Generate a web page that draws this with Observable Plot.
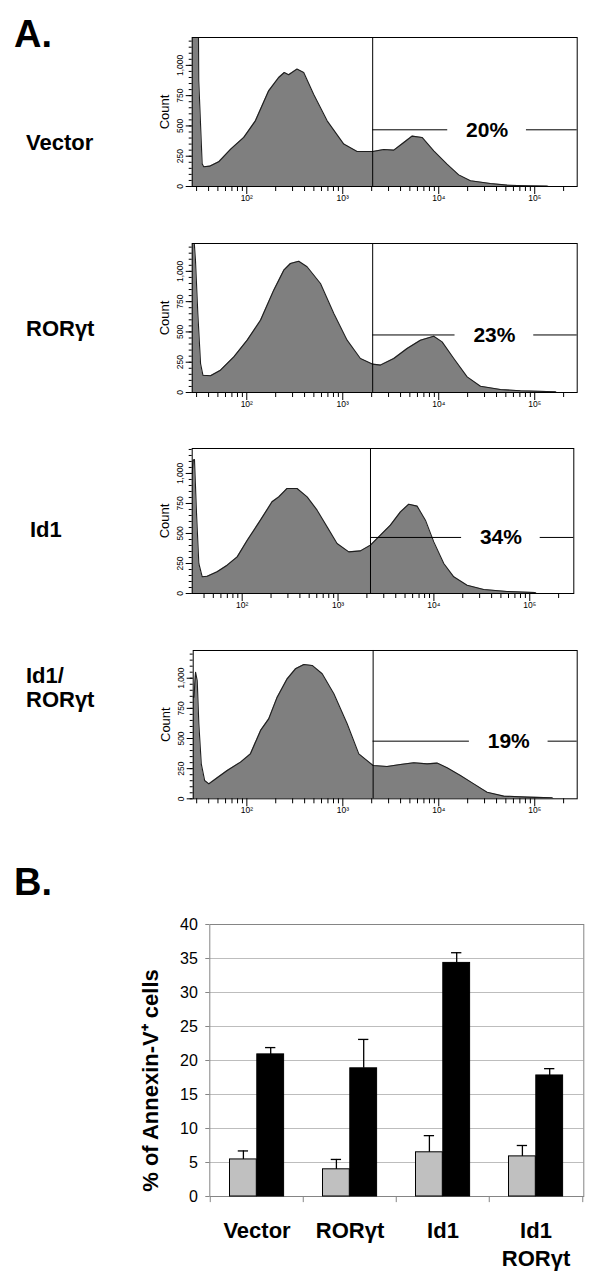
<!DOCTYPE html>
<html><head><meta charset="utf-8">
<script src="https://cdn.jsdelivr.net/npm/d3@7"></script>
<script src="https://cdn.jsdelivr.net/npm/@observablehq/plot@0.6"></script>
<style>
body{margin:0;background:#fff;}
#fig{position:relative;width:600px;height:1277px;overflow:hidden;background:#fff;font-family:"Liberation Sans",Arial,sans-serif;}
#fig svg{position:absolute;left:0;}
.lbl{position:absolute;font-weight:bold;color:#000;white-space:pre;}
</style></head><body><div id="fig"></div>
<script>
// ---------- Panel A data (fluorescence intensity vs. count) ----------
const vectorX = [27,30.4,31.6,34.3,35.6,41,51,68,93,123,169,215,246,273,333,392,497,688,1025,1412,2056,2675,3403,4325,5277,6710,8875,12200,16150,21400,34500,51500,83200,134000,139000];
const vectorCount = [3000,3000,873,187,163,168,204,308,405,542,790,900,941,922,969,941,762,542,350,289,289,305,300,363,416,405,294,184,96,47,25,11,6,3,0];

const rorX = [27,28,29.2,30.9,33,34.9,41.9,53.2,73.3,101,139,191,243,285,348,425,586,807,1110,1528,2056,2468,3400,4680,6440,8870,10840,14350,19770,27200,43900,71000,164000,168000];
const rorCount = [3000,1300,1093,652,239,143,138,184,294,432,597,845,1010,1065,1084,1038,900,652,432,281,234,226,281,363,432,465,418,281,129,52,25,14,6,0];

const id1X = [30.1,30.8,31.8,33.4,35.3,38.3,43.2,54.8,69.7,88.7,113,155,205,241,294,374,476,605,769,977,1294,1713,2178,2768,3518,4475,5470,6680,8160,9970,12680,16110,22200,33100,58000,114000,117000];
const id1Count = [1000,1111,1116,666,250,139,144,181,236,305,444,611,764,805,875,875,805,694,555,417,347,355,403,486,569,680,744,728,611,430,250,139,69,33,17,8,0];

const id1RorX = [27.6,28.1,29.2,30.4,31.6,33.5,36.3,40.2,49.1,62.4,85.9,109,139,169,207,263,321,393,480,610,807,1110,1468,2070,2897,3990,5500,7570,9620,12220,16830,23170,31900,47600,83200,152000,156000];
const id1RorCount = [843,843,1050,981,622,290,152,124,174,235,304,373,567,663,843,995,1078,1114,1106,1037,871,622,373,276,268,285,299,290,296,257,193,124,55,22,14,8,0];

const rowLabels = ["Vector","RORγt","Id1","Id1/\nRORγt"];
const gateValues = [2050,2050,2180,2070];
const markerLevels = [468,475,467,478];
const percentLabels = ["20%","23%","34%","19%"];
const percentLabelX = [31900,38000,50000,53600];
const countTicks = [0,250,500,750,1000];
const decadeTicks = [100,1000,10000,100000];

// ---------- Panel B data ----------
const categories = ["Vector","RORγt","Id1","Id1\nRORγt"];
const lightMean = [5.45,4.0,6.5,5.9];
const lightErr  = [1.25,1.45,2.45,1.6];
const darkMean  = [20.9,18.85,34.35,17.8];
const darkErr   = [1.0,4.25,1.5,1.0];
const barTicks  = [0,5,10,15,20,25,30,35,40];

// ---------- layout ----------
const FONT = '"Liberation Sans", Arial, sans-serif';
const fig = document.getElementById("fig");
const sup = {2:"\u00B2",3:"\u00B3",4:"\u2074",5:"\u2075"};

const layouts = [
  {top:36.7, bottom:185.7, left:191.7, right:576.7, domain:[27,277000], ymax:1230},
  {top:243.3, bottom:392.3, left:191.7, right:576.7, domain:[27,277000], ymax:1230},
  {top:448.3, bottom:593.3, left:191.7, right:573.3, domain:[30.1,288000], ymax:1208},
  {top:650, bottom:798.3, left:192.7, right:576.7, domain:[27.6,277000], ymax:1230}
];
const series = [[vectorX,vectorCount],[rorX,rorCount],[id1X,id1Count],[id1RorX,id1RorCount]];

series.forEach(([xs, cs], k) => {
  const L = layouts[k];
  const rows = xs.map((x,i) => ({x, c: cs[i]}));
  const [lo, hi] = L.domain;
  const minorX = [];
  for (let e = 1; e <= 5; e++) for (let m = 2; m <= 9; m++) { const v = m * 10 ** e; if (v >= lo && v <= hi) minorX.push(v); }
  const minorY = d3.range(0, L.ymax, 50);
  const gap = 10 ** 0.41;
  const mt = 20, mb = 26;
  const svg = Plot.plot({
    width: 600, height: (L.bottom - L.top) + mt + mb,
    marginTop: mt, marginBottom: mb, marginLeft: L.left, marginRight: 600 - L.right,
    x: {type: "log", domain: L.domain, label: null},
    y: {domain: [0, L.ymax], label: null},
    style: {fontFamily: FONT, background: "transparent", overflow: "visible"},
    marks: [
      Plot.areaY(rows, {x: "x", y: "c", fill: "#7f7f7f", clip: true}),
      Plot.lineY(rows, {x: "x", y: "c", stroke: "#1e1e1e", strokeWidth: 1.1, clip: true}),
      Plot.axisX(minorX, {tickSize: 5, tickFormat: () => "", label: null}),
      Plot.axisX(decadeTicks, {tickSize: 8, tickFormat: () => "", label: null}),
      Plot.text(decadeTicks, {x: d => d, frameAnchor: "bottom", dy: 14, text: d => "10" + sup[Math.round(Math.log10(d))], fontSize: 8.5}),
      Plot.axisY(minorY, {tickSize: 3, tickFormat: () => "", label: null}),
      Plot.axisY(countTicks, {tickSize: 6, tickFormat: () => "", label: null}),
      Plot.text(countTicks, {y: d => d, frameAnchor: "left", textAnchor: "middle", dx: -12, rotate: -90, text: d => d3.format(",")(d), fontSize: 8.5}),
      Plot.text(["Count"], {frameAnchor: "left", textAnchor: "middle", dx: -27.5, rotate: -90, fontSize: 13}),
      Plot.frame({stroke: "black"}),
      Plot.ruleX([gateValues[k]], {stroke: "black"}),
      Plot.ruleY([markerLevels[k]], {x1: gateValues[k], x2: percentLabelX[k] / gap, stroke: "black"}),
      Plot.ruleY([markerLevels[k]], {x1: percentLabelX[k] * gap, x2: hi, stroke: "black"}),
      Plot.text([percentLabels[k]], {x: percentLabelX[k], y: markerLevels[k], fontSize: 21, fontWeight: "bold"})
    ]
  });
  svg.style.top = (L.top - mt) + "px";
  fig.appendChild(svg);
});

// ---------- Panel B chart ----------
const barRows = categories.map((c, i) => ({cat: c, light: lightMean[i], lightTop: lightMean[i] + lightErr[i], dark: darkMean[i], darkTop: darkMean[i] + darkErr[i]}));
const bTop = 895, fTop = 924, fBottom = 1196, fLeft = 209.3, fRight = 583.3;
const bw = (fRight - fLeft) / categories.length;
const pad = 19.5, barW = 27.3, capHalf = 5.4;
const lightC = pad + barW / 2, darkC = pad + barW * 1.5;
const barSvg = Plot.plot({
  width: 600, height: 1277 - bTop,
  marginTop: fTop - bTop, marginBottom: 1277 - fBottom, marginLeft: fLeft, marginRight: 600 - fRight,
  x: {domain: categories, padding: 0, axis: null, label: null},
  y: {domain: [0, 40], label: null},
  style: {fontFamily: FONT, background: "transparent", overflow: "visible"},
  marks: [
    Plot.gridY(barTicks.slice(1, -1), {stroke: "#bdbdbd", strokeOpacity: 1}),
    Plot.frame({stroke: "#858585"}),
    Plot.axisY(barTicks, {tickSize: 4, tickPadding: 8, fontSize: 16, stroke: "#858585", fill: "black", label: null}),
    Plot.ruleX(categories, {x: d => d, y1: 0, y2: -0.9, dx: -bw / 2, stroke: "#858585"}),
    Plot.ruleX(categories.slice(-1), {x: d => d, y1: 0, y2: -0.9, dx: bw / 2, stroke: "#858585"}),
    Plot.barY(barRows, {x: "cat", y: "light", fill: "#c0c0c0", stroke: "black", insetLeft: pad, insetRight: bw - pad - barW}),
    Plot.barY(barRows, {x: "cat", y: "dark", fill: "black", stroke: "black", insetLeft: pad + barW, insetRight: bw - pad - 2 * barW}),
    Plot.ruleX(barRows, {x: "cat", y1: "light", y2: "lightTop", dx: lightC - bw / 2, stroke: "black", strokeWidth: 1.3}),
    Plot.ruleX(barRows, {x: "cat", y1: "dark", y2: "darkTop", dx: darkC - bw / 2, stroke: "black", strokeWidth: 1.3}),
    Plot.tickY(barRows, {x: "cat", y: "lightTop", insetLeft: lightC - capHalf, insetRight: bw - lightC - capHalf, stroke: "black", strokeWidth: 1.3}),
    Plot.tickY(barRows, {x: "cat", y: "darkTop", insetLeft: darkC - capHalf, insetRight: bw - darkC - capHalf, stroke: "black", strokeWidth: 1.3}),
    Plot.text(categories, {x: d => d, text: d => d, frameAnchor: "bottom", lineAnchor: "top", dy: 21, fontSize: 22, fontWeight: "bold", lineHeight: 1.3}),
    Plot.text(["% of Annexin-V\u207A cells"], {frameAnchor: "left", textAnchor: "middle", dx: -59, dy: 20, rotate: -90, fontSize: 22, fontWeight: "bold"})
  ]
});
barSvg.style.top = bTop + "px";
fig.appendChild(barSvg);

// ---------- text labels ----------
function place(text, left, baseline, size, lh) {
  const d = document.createElement("div");
  d.className = "lbl";
  d.textContent = text;
  d.style.fontSize = size + "px";
  d.style.lineHeight = lh + "px";
  const off = (lh - 1.117 * size) / 2 + 0.905 * size;
  d.style.left = left + "px";
  d.style.top = (baseline - off) + "px";
  fig.appendChild(d);
}
place("A.", 14, 46.7, 38, 38);
place("B.", 14, 895, 38, 38);
const labelBaselines = [150.7, 337, 538, 684];
const labelLefts = [26, 26, 30, 26];
rowLabels.forEach((t, i) => place(t, labelLefts[i], labelBaselines[i], 22, 24));
</script></body></html>
